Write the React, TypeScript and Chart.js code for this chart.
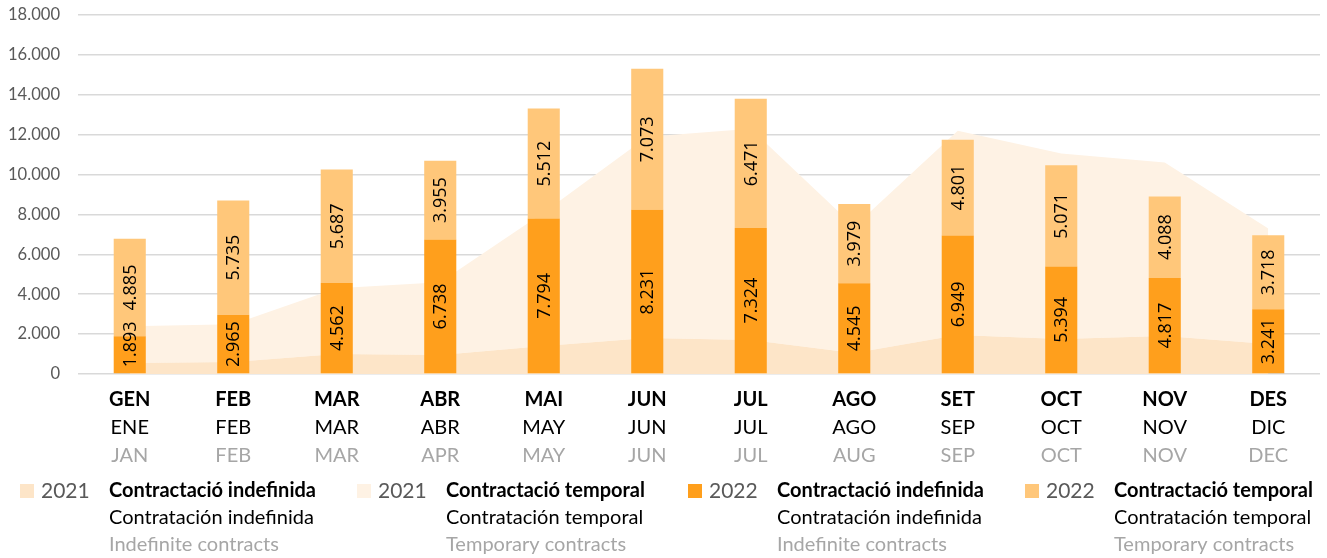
import React, { useEffect, useRef } from 'react';
import { Chart, registerables } from 'chart.js';

Chart.register(...registerables);

// Category labels (three languages)
const monthsCA = ['GEN', 'FEB', 'MAR', 'ABR', 'MAI', 'JUN', 'JUL', 'AGO', 'SET', 'OCT', 'NOV', 'DES'];
const monthsES = ['ENE', 'FEB', 'MAR', 'ABR', 'MAY', 'JUN', 'JUL', 'AGO', 'SEP', 'OCT', 'NOV', 'DIC'];
const monthsEN = ['JAN', 'FEB', 'MAR', 'APR', 'MAY', 'JUN', 'JUL', 'AUG', 'SEP', 'OCT', 'NOV', 'DEC'];

// 2022 bars
const indef2022 = [1893, 2965, 4562, 6738, 7794, 8231, 7324, 4545, 6949, 5394, 4817, 3241];
const temp2022 = [4885, 5735, 5687, 3955, 5512, 7073, 6471, 3979, 4801, 5071, 4088, 3718];

// 2021 areas
const indef2021 = [550, 600, 1000, 950, 1400, 1800, 1700, 1050, 1950, 1750, 1900, 1500];
const temp2021 = [1850, 1900, 3300, 3650, 6700, 10100, 10600, 6350, 10250, 9300, 8700, 5800];

// Axis
const yMax = 18000;
const yStep = 2000;

// Legend texts
const legendYears = ['2021', '2021', '2022', '2022'];
const legendCA = ['Contractació indefinida', 'Contractació temporal', 'Contractació indefinida', 'Contractació temporal'];
const legendES = ['Contratación indefinida', 'Contratación temporal', 'Contratación indefinida', 'Contratación temporal'];
const legendEN = ['Indefinite contracts', 'Temporary contracts', 'Indefinite contracts', 'Temporary contracts'];

const COL_DARK = '#FF9F1C';
const COL_LIGHT = '#FFC77A';
const COL_AREA_LOW = '#FDE5C8';
const COL_AREA_HIGH = '#FEF2E4';

const fmt = (v: number) => String(Math.round(v)).replace(/\B(?=(\d{3})+(?!\d))/g, '.');

const barLabelsPlugin = {
  id: 'barLabels',
  afterDatasetsDraw(chart: any) {
    const ctx = chart.ctx;
    chart.data.datasets.forEach((ds: any, di: number) => {
      if (ds.type !== 'bar') return;
      const meta = chart.getDatasetMeta(di);
      meta.data.forEach((el: any, i: number) => {
        const { x, y, base } = el.getProps(['x', 'y', 'base'], true);
        const text = fmt(ds.data[i]);
        ctx.save();
        ctx.font = '18px "Open Sans"';
        const w = ctx.measureText(text).width;
        const bottom = Math.max(y, base);
        let cy = (y + base) / 2;
        if (cy + w / 2 > bottom - 6) cy = bottom - 6 - w / 2;
        ctx.translate(x, cy);
        ctx.rotate(-Math.PI / 2);
        ctx.textAlign = 'center';
        ctx.textBaseline = 'middle';
        ctx.fillStyle = '#000000';
        ctx.fillText(text, 0, 1);
        ctx.restore();
      });
    });
  },
};

const xLabelsPlugin = {
  id: 'xLabels',
  afterDraw(chart: any) {
    const ctx = chart.ctx;
    const xs = chart.scales.x;
    ctx.save();
    ctx.textAlign = 'center';
    ctx.textBaseline = 'middle';
    for (let i = 0; i < monthsCA.length; i++) {
      const x = xs.getPixelForValue(i);
      ctx.font = 'bold 20px Lato';
      ctx.fillStyle = '#000000';
      ctx.fillText(monthsCA[i], x, 400);
      ctx.font = '20px Lato';
      ctx.fillStyle = '#000000';
      ctx.fillText(monthsES[i], x, 428);
      ctx.fillStyle = '#A6A6A6';
      ctx.fillText(monthsEN[i], x, 456);
    }
    ctx.restore();
  },
};

const legendPlugin = {
  id: 'customLegend',
  afterDraw(chart: any) {
    const ctx = chart.ctx;
    const order = [2, 3, 0, 1];
    const itemX = [20, 357, 688, 1025];
    ctx.save();
    ctx.textBaseline = 'middle';
    ctx.textAlign = 'left';
    order.forEach((di, k) => {
      const ds = chart.data.datasets[di];
      const x0 = itemX[k];
      ctx.fillStyle = ds.backgroundColor;
      ctx.fillRect(x0, 484, 14, 14);
      ctx.font = '21px Lato';
      ctx.fillStyle = '#595959';
      ctx.fillText(legendYears[k], x0 + 21, 491);
      ctx.font = 'bold 20px Lato';
      ctx.fillStyle = '#000000';
      ctx.fillText(legendCA[k], x0 + 89, 491);
      ctx.font = '20px Lato';
      ctx.fillText(legendES[k], x0 + 89, 518);
      ctx.fillStyle = '#A6A6A6';
      ctx.fillText(legendEN[k], x0 + 89, 545);
    });
    ctx.restore();
  },
};

export default function App() {
  const ref = useRef<HTMLCanvasElement | null>(null);

  useEffect(() => {
    if (!ref.current) return;
    const chart = new Chart(ref.current, {
      data: {
        labels: monthsCA,
        datasets: [
          {
            type: 'bar',
            label: '2022 Contractació indefinida',
            data: indef2022,
            backgroundColor: COL_DARK,
            stack: 'b2022',
            order: 0,
            categoryPercentage: 1,
            barPercentage: 0.31,
          },
          {
            type: 'bar',
            label: '2022 Contractació temporal',
            data: temp2022,
            backgroundColor: COL_LIGHT,
            stack: 'b2022',
            order: 0,
            categoryPercentage: 1,
            barPercentage: 0.31,
          },
          {
            type: 'line',
            label: '2021 Contractació indefinida',
            data: indef2021,
            backgroundColor: COL_AREA_LOW,
            borderColor: 'rgba(0,0,0,0)',
            borderWidth: 0,
            pointRadius: 0,
            fill: 'origin',
            stack: 'a2021',
            order: 1,
            tension: 0,
          },
          {
            type: 'line',
            label: '2021 Contractació temporal',
            data: temp2021,
            backgroundColor: COL_AREA_HIGH,
            borderColor: 'rgba(0,0,0,0)',
            borderWidth: 0,
            pointRadius: 0,
            fill: '-1',
            stack: 'a2021',
            order: 1,
            tension: 0,
          },
        ],
      } as any,
      options: {
        animation: false,
        responsive: true,
        maintainAspectRatio: false,
        layout: { padding: { top: 15, right: 7, left: 0, bottom: 0 } },
        plugins: {
          legend: { display: false },
          tooltip: { enabled: false },
        },
        scales: {
          x: {
            offset: true,
            grid: { display: false },
            border: { display: false },
            ticks: { display: false },
            afterFit: (s: any) => {
              s.height = 184;
            },
          },
          y: {
            stacked: true,
            min: 0,
            max: yMax,
            border: { display: false },
            grid: { color: '#D9D9D9', lineWidth: 1.5, drawTicks: false },
            ticks: {
              stepSize: yStep,
              padding: 18,
              color: '#595959',
              font: { family: 'Lato', size: 16.6 },
              callback: (v: any) => fmt(Number(v)),
            },
            afterFit: (s: any) => {
              s.width = 78;
              s.paddingTop = 0;
              s.paddingBottom = 0;
            },
          },
        },
      } as any,
      plugins: [barLabelsPlugin, xLabelsPlugin, legendPlugin],
    });
    return () => chart.destroy();
  }, []);

  return (
    <div style={{ position: 'absolute', left: 0, top: 0, width: 1327, height: 558, background: '#ffffff' }}>
      <canvas ref={ref} />
    </div>
  );
}
